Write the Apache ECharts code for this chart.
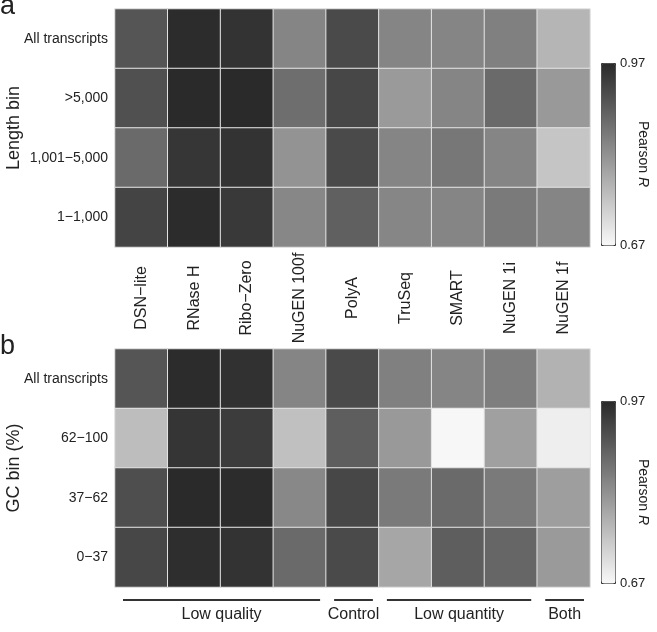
<!DOCTYPE html>
<html>
<head>
<meta charset="utf-8">
<script src="https://cdn.jsdelivr.net/npm/echarts@6/dist/echarts.min.js"></script>
<style>
  html, body {margin: 0; padding: 0; background: #fff;}
  #main {width: 657px; height: 632px;}
</style>
</head>
<body>
<div id="main"></div>
<script>
const columns = ['DSN−lite', 'RNase H', 'Ribo−Zero', 'NuGEN 100f', 'PolyA', 'TruSeq', 'SMART', 'NuGEN 1i', 'NuGEN 1f'];
const lengthBins = ['All transcripts', '>5,000', '1,001−5,000', '1−1,000'];
const gcBins = ['All transcripts', '62−100', '37−62', '0−37'];

// Pearson R, one row per bin, in column order
const lengthAll = [0.907, 0.967, 0.957, 0.837, 0.923, 0.837, 0.837, 0.845, 0.768];
const length5000 = [0.915, 0.970, 0.970, 0.871, 0.928, 0.807, 0.837, 0.877, 0.808];
const length1001 = [0.877, 0.953, 0.957, 0.817, 0.923, 0.837, 0.858, 0.837, 0.744];
const length1 = [0.932, 0.967, 0.948, 0.835, 0.891, 0.836, 0.838, 0.853, 0.837];

const gcAll = [0.907, 0.967, 0.960, 0.837, 0.923, 0.845, 0.837, 0.847, 0.772];
const gc62 = [0.756, 0.954, 0.944, 0.752, 0.894, 0.808, 0.671, 0.798, 0.685];
const gc37 = [0.918, 0.970, 0.967, 0.833, 0.928, 0.853, 0.877, 0.853, 0.801];
const gc0 = [0.928, 0.964, 0.957, 0.877, 0.923, 0.789, 0.894, 0.883, 0.807];

const rangeMin = 0.67;
const rangeMax = 0.97;

const groups = [
  {name: 'Low quality', first: 0, last: 3},
  {name: 'Control', first: 4, last: 4},
  {name: 'Low quantity', first: 5, last: 7},
  {name: 'Both', first: 8, last: 8},
];

function toCells(rows) {
  const out = [];
  rows.forEach((row, y) => row.forEach((v, x) => out.push([x, y, v])));
  return out;
}

const font = 'Liberation Sans, Arial, Helvetica, sans-serif';
const chart = echarts.init(document.getElementById('main'));

function yAxisOf(idx, bins, title) {
  return {
    type: 'category',
    gridIndex: idx,
    data: bins,
    inverse: true,
    axisLine: {show: false},
    axisTick: {show: false},
    splitLine: {show: false},
    axisLabel: {fontSize: 14, color: '#222', margin: 7, fontFamily: font},
    name: title,
    nameLocation: 'middle',
    nameRotate: 90,
    nameGap: 92,
    nameMoveOverlap: false,
    nameTextStyle: {fontSize: 18, color: '#222', fontFamily: font},
  };
}

function cbar(idx, top) {
  return {
    type: 'continuous',
    seriesIndex: idx,
    min: rangeMin,
    max: rangeMax,
    left: 601,
    top: top,
    itemWidth: 14,
    itemHeight: 182,
    calculable: false,
    hoverLink: false,
    text: null,
    padding: 0,
    borderColor: '#333',
    borderWidth: 1,
    inRange: {color: ['#f8f8f8', '#2a2a2a']},
  };
}

chart.setOption({
  animation: false,
  textStyle: {fontFamily: font},
  grid: [
    {left: 115, top: 9, width: 475, height: 238, outerBoundsMode: 'none'},
    {left: 115, top: 349, width: 475, height: 238, outerBoundsMode: 'none'},
  ],
  xAxis: [
    {
      type: 'category', gridIndex: 0, data: columns, position: 'bottom',
      axisLine: {show: false}, axisTick: {show: false}, splitLine: {show: false},
      axisLabel: {rotate: 90, align: 'center', verticalAlign: 'middle', margin: 51, fontSize: 16, color: '#222', fontFamily: font},
    },
    {
      type: 'category', gridIndex: 1, data: columns,
      axisLine: {show: false}, axisTick: {show: false}, splitLine: {show: false},
      axisLabel: {show: false},
    },
  ],
  yAxis: [
    yAxisOf(0, lengthBins, 'Length bin'),
    yAxisOf(1, gcBins, 'GC bin (%)'),
  ],
  visualMap: [cbar(0, 63), cbar(1, 401)],
  series: [
    {
      type: 'heatmap', xAxisIndex: 0, yAxisIndex: 0,
      data: toCells([lengthAll, length5000, length1001, length1]),
      itemStyle: {borderColor: '#e4e4e4', borderWidth: 1},
      emphasis: {disabled: true},
    },
    {
      type: 'heatmap', xAxisIndex: 1, yAxisIndex: 1,
      data: toCells([gcAll, gc62, gc37, gc0]),
      itemStyle: {borderColor: '#e4e4e4', borderWidth: 1},
      emphasis: {disabled: true},
    },
  ],
});

// annotations: panel letters, colour bar labels, group brackets
const graphics = [];
const txt = (id, x, y, text, size, extra) => graphics.push(Object.assign({
  id: id, type: 'text', x: x, y: y,
  style: Object.assign({text: text, fontSize: size, fill: '#222', fontFamily: font}, extra && extra.style),
}, extra && extra.el));

txt('pa', 0, 7, 'a', 27, {style: {textVerticalAlign: 'middle'}});
txt('pb', 0, 347, 'b', 27, {style: {textVerticalAlign: 'middle'}});

[[63, 245], [401, 583]].forEach(([t, b], i) => {
  txt('hi' + i, 620, t, rangeMax.toFixed(2), 13, {style: {textVerticalAlign: 'middle'}});
  txt('lo' + i, 620, b, rangeMin.toFixed(2), 13, {style: {textVerticalAlign: 'middle'}});
  graphics.push({
    id: 'pr' + i, type: 'text', x: 643, y: (t + b) / 2, rotation: -Math.PI / 2,
    style: {
      text: 'Pearson {i|R}', fontSize: 14, fill: '#222', fontFamily: font,
      textAlign: 'center', textVerticalAlign: 'middle',
      rich: {i: {fontStyle: 'italic', fontSize: 14, fontFamily: font}},
    },
  });
});

const c0 = chart.convertToPixel({xAxisIndex: 1}, columns[0]);
const c1 = chart.convertToPixel({xAxisIndex: 1}, columns[1]);
const bw = c1 - c0;
groups.forEach((g, i) => {
  const x1 = chart.convertToPixel({xAxisIndex: 1}, columns[g.first]) - bw / 2 + 8;
  const x2 = chart.convertToPixel({xAxisIndex: 1}, columns[g.last]) + bw / 2 - 6;
  graphics.push({
    id: 'gl' + i, type: 'line',
    shape: {x1: x1, y1: 600, x2: x2, y2: 600},
    style: {stroke: '#333', lineWidth: 2},
  });
  txt('gt' + i, (x1 + x2) / 2, 615, g.name, 16, {style: {textAlign: 'center', textVerticalAlign: 'middle'}});
});

chart.setOption({graphic: graphics});
</script>
</body>
</html>
